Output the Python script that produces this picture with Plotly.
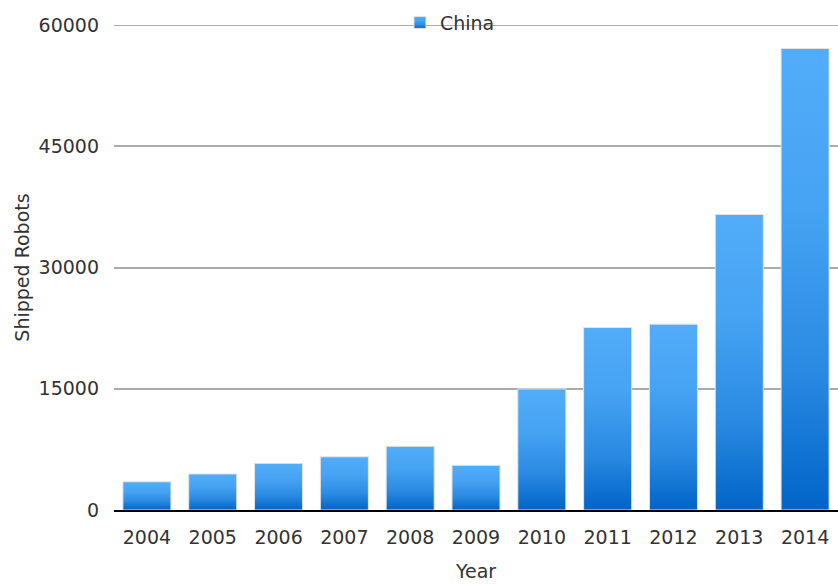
import plotly.graph_objects as go

years = ["2004", "2005", "2006", "2007", "2008", "2009", "2010", "2011", "2012", "2013", "2014"]
shipped = [3490, 4460, 5770, 6580, 7880, 5530, 14980, 22580, 22990, 36560, 57100]
series_name = "China"
y_ticks = [0, 15000, 30000, 45000, 60000]

FONT = "DejaVu Sans"
TEXT = "#333333"
FS = 19
GRID = "#ababab"

fig = go.Figure(
    go.Bar(
        x=years,
        y=shipped,
        name=series_name,
        marker=dict(color="#2f8fe6", line=dict(color="#e4e4e4", width=1)),
        showlegend=True,
    )
)

# top gridline (plotly drops gridlines that sit on the plot edge)
fig.add_hline(y=y_ticks[-1], line=dict(color=GRID, width=2), layer="below")

fig.update_layout(
    width=838,
    height=586,
    margin=dict(l=114, r=0, t=25, b=76),
    paper_bgcolor="white",
    plot_bgcolor="white",
    font=dict(family=FONT, size=FS, color=TEXT),
    bargap=0.27,
    legend=dict(
        orientation="h",
        x=0.395,
        xanchor="left",
        y=1.005,
        yanchor="middle",
        bgcolor="rgba(0,0,0,0)",
        font=dict(family=FONT, size=FS, color=TEXT),
    ),
    xaxis=dict(
        showgrid=False,
        showline=True,
        linecolor="black",
        linewidth=2,
        ticks="",
        ticklabelstandoff=9,
        title=dict(text="Year", standoff=18, font=dict(family=FONT, size=FS, color=TEXT)),
    ),
    yaxis=dict(
        range=[0, 60000],
        tickvals=y_ticks,
        ticktext=[str(v) for v in y_ticks],
        showgrid=True,
        gridcolor=GRID,
        gridwidth=2,
        zeroline=False,
        showline=False,
        ticks="",
        ticklabelstandoff=14,
        title=dict(text="Shipped Robots", standoff=3, font=dict(family=FONT, size=FS, color=TEXT)),
    ),
)

post = """
document.body.style.margin = '0';
var gd = document.getElementById('{plot_id}');
function applyGrad(){
  var svgs = gd.querySelectorAll('svg.main-svg');
  if(!svgs.length) return;
  var ns = 'http://www.w3.org/2000/svg';
  if(!document.getElementById('barGradRS')){
    var defs = svgs[0].querySelector('defs');
    if(!defs){ defs = document.createElementNS(ns,'defs'); svgs[0].insertBefore(defs, svgs[0].firstChild); }
    var lg = document.createElementNS(ns,'linearGradient');
    lg.setAttribute('id','barGradRS');
    lg.setAttribute('x1','0'); lg.setAttribute('y1','0');
    lg.setAttribute('x2','0'); lg.setAttribute('y2','1');
    var stops = [[0,'#52acf9'],[0.35,'#46a3f3'],[0.7,'#2a8ae2'],[1,'#0064c8']];
    stops.forEach(function(s){
      var st = document.createElementNS(ns,'stop');
      st.setAttribute('offset', s[0]);
      st.setAttribute('stop-color', s[1]);
      lg.appendChild(st);
    });
    defs.appendChild(lg);
  }
  gd.querySelectorAll('.bars .point path, .legend .legendpoints path').forEach(function(p){
    p.style.fill = 'url(#barGradRS)';
  });
}
applyGrad();
gd.on('plotly_afterplot', applyGrad);
"""

fig.write_html("out.html", post_script=post, config={"displayModeBar": False})
